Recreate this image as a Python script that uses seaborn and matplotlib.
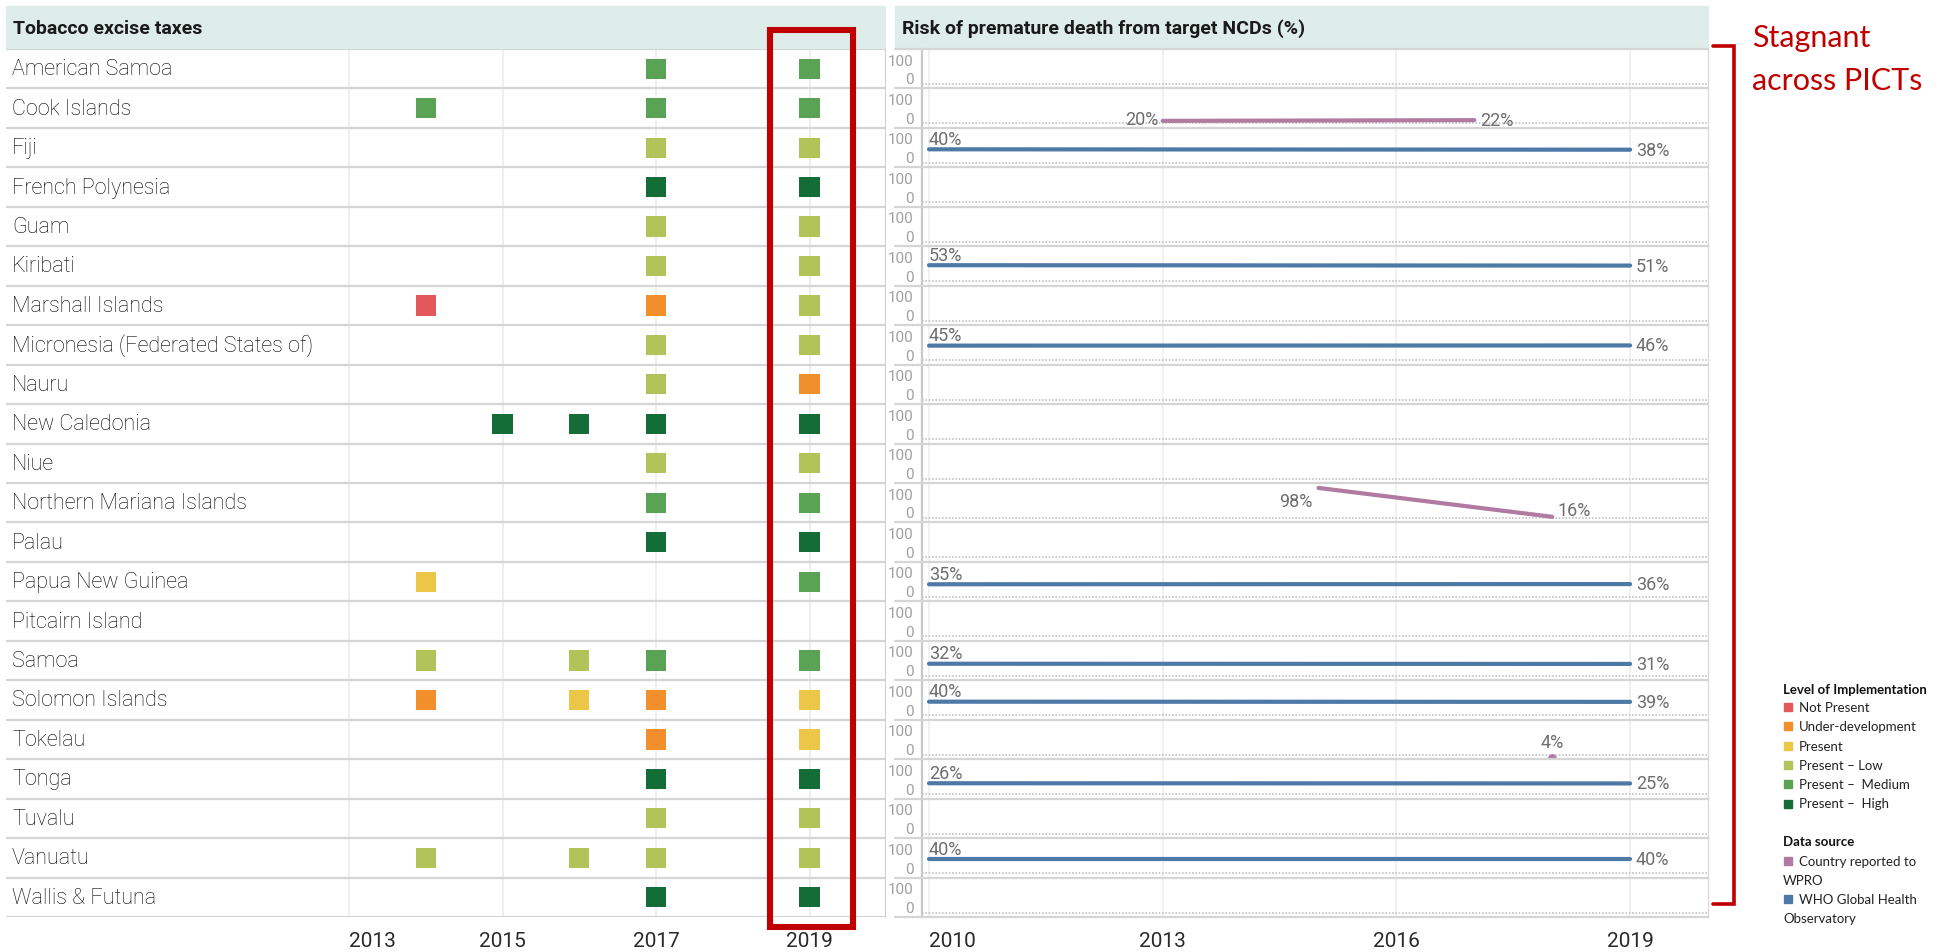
import pandas as pd
import seaborn as sns
import matplotlib.pyplot as plt
from matplotlib.lines import Line2D
from matplotlib.patches import Rectangle

# rows of both tables (top to bottom)
countries = ["American Samoa", "Cook Islands", "Fiji", "French Polynesia", "Guam", "Kiribati",
             "Marshall Islands", "Micronesia (Federated States of)", "Nauru", "New Caledonia",
             "Niue", "Northern Mariana Islands", "Palau", "Papua New Guinea", "Pitcairn Island",
             "Samoa", "Solomon Islands", "Tokelau", "Tonga", "Tuvalu", "Vanuatu", "Wallis & Futuna"]

levels = ["Not Present", "Under-development", "Present", "Present – Low",
          "Present –  Medium", "Present –  High"]
level_colors = ["#e2585b", "#f28f2d", "#ecc747", "#b2c35a", "#5ba354", "#146d37"]
level_codes = ["NP", "UD", "P", "L", "M", "H"]

# tobacco excise taxes: one square per country / year
tax_country = (["American Samoa"] * 2 + ["Cook Islands"] * 3 + ["Fiji"] * 2 + ["French Polynesia"] * 2
               + ["Guam"] * 2 + ["Kiribati"] * 2 + ["Marshall Islands"] * 3
               + ["Micronesia (Federated States of)"] * 2 + ["Nauru"] * 2 + ["New Caledonia"] * 4
               + ["Niue"] * 2 + ["Northern Mariana Islands"] * 2 + ["Palau"] * 2
               + ["Papua New Guinea"] * 2 + ["Samoa"] * 4 + ["Solomon Islands"] * 4 + ["Tokelau"] * 2
               + ["Tonga"] * 2 + ["Tuvalu"] * 2 + ["Vanuatu"] * 4 + ["Wallis & Futuna"] * 2)
tax_year = [2017, 2019, 2014, 2017, 2019, 2017, 2019, 2017, 2019,
            2017, 2019, 2017, 2019, 2014, 2017, 2019,
            2017, 2019, 2017, 2019, 2015, 2016, 2017, 2019,
            2017, 2019, 2017, 2019, 2017, 2019,
            2014, 2019, 2014, 2016, 2017, 2019, 2014, 2016, 2017, 2019, 2017, 2019,
            2017, 2019, 2017, 2019, 2014, 2016, 2017, 2019, 2017, 2019]
tax_level = ["M", "M", "M", "M", "M", "L", "L", "H", "H",
             "L", "L", "L", "L", "NP", "UD", "L",
             "L", "L", "L", "UD", "H", "H", "H", "H",
             "L", "L", "M", "M", "H", "H",
             "P", "M", "L", "L", "M", "M", "UD", "P", "UD", "P", "UD", "P",
             "H", "H", "L", "L", "L", "L", "L", "L", "H", "H"]

# risk of premature death from target NCDs (%)
sources = ["Country reported to WPRO", "WHO Global Health Observatory"]
source_colors = ["#b07aa1", "#4e79a7"]
ncd_country = ["Cook Islands", "Cook Islands", "Fiji", "Fiji", "Kiribati", "Kiribati",
               "Micronesia (Federated States of)", "Micronesia (Federated States of)",
               "Northern Mariana Islands", "Northern Mariana Islands",
               "Papua New Guinea", "Papua New Guinea", "Samoa", "Samoa",
               "Solomon Islands", "Solomon Islands", "Tokelau", "Tonga", "Tonga",
               "Vanuatu", "Vanuatu"]
ncd_year = [2013, 2017, 2010, 2019, 2010, 2019, 2010, 2019, 2015, 2018,
            2010, 2019, 2010, 2019, 2010, 2019, 2018, 2010, 2019, 2010, 2019]
ncd_value = [20, 22, 40, 38, 53, 51, 45, 46, 98, 16,
             35, 36, 32, 31, 40, 39, 4, 26, 25, 40, 40]
ncd_source = ["W", "W", "G", "G", "G", "G", "G", "G", "W", "W",
              "G", "G", "G", "G", "G", "G", "W", "G", "G", "G", "G"]

tax = pd.DataFrame({"country": tax_country, "year": tax_year,
                    "level": [levels[level_codes.index(c)] for c in tax_level]})
tax["row"] = tax["country"].map(countries.index)
ncd = pd.DataFrame({"country": ncd_country, "year": ncd_year, "value": ncd_value,
                    "source": [sources[0] if s == "W" else sources[1] for s in ncd_source]})

sns.set_style("white")
plt.rcParams["font.family"] = ["Roboto", "DejaVu Sans"]

W, H = 1946, 953
fig = plt.figure(figsize=(W / 100, H / 100), dpi=100)
def fx(px): return px / W
def fy(py): return 1 - py / H

row_top, row_bot = 50, 918
n = len(countries)
row_h = (row_bot - row_top) / n
header_col = "#dfedea"
sep_col = "#d5d5d5"
red = "#c00000"

# header bands
for x0, x1, title in [(6, 885, "Tobacco excise taxes"),
                      (895, 1708, "Risk of premature death from target NCDs (%)")]:
    fig.add_artist(Rectangle((fx(x0), fy(49)), fx(x1) - fx(x0), fy(7) - fy(49),
                             transform=fig.transFigure, color=header_col, zorder=0))
    fig.text(fx(x0 + 7), fy(29), title, fontsize=14, fontweight="bold", va="center", color="#1a1a1a")

# ---- left table: excise taxes
px_year = 76.75
x_left = 2013 - (349 - 6) / px_year
x_right = 2013 + (885 - 349) / px_year
ax_l = fig.add_axes([fx(6), fy(row_bot), fx(885) - fx(6), fy(row_top) - fy(row_bot)])
sns.scatterplot(data=tax, x="year", y="row", hue="level", hue_order=levels,
                palette=dict(zip(levels, level_colors)), marker="s", s=210,
                linewidth=0, legend=False, ax=ax_l, zorder=3)
ax_l.set_xlim(x_left, x_right)
ax_l.set_ylim(n - 0.5, -0.5)
for b in range(n + 1):
    ax_l.axhline(b - 0.5, color=sep_col, lw=1.6, zorder=1)
for i, c in enumerate(countries):
    ax_l.text(x_left + 6 / px_year, i, c, va="center", ha="left", fontsize=15.5,
              fontweight="light", color="#000000")
ax_l.set_xticks([2013, 2015, 2017, 2019])
ax_l.set_xticklabels(["2013", "2015", "2017", "2019"], fontsize=15, color="#2a2a2a")
ax_l.get_xticklabels()[0].set_ha("left")
ax_l.set_yticks([])
ax_l.grid(axis="x", color="#ececec", lw=1.2)
ax_l.tick_params(axis="x", length=0, pad=10)
ax_l.set_xlabel("")
ax_l.set_ylabel("")
for s in ["top", "bottom", "left"]:
    ax_l.spines[s].set_visible(False)
ax_l.spines["right"].set_color("#d0d0d0")

# red frame around 2019
fig.add_artist(Rectangle((fx(770), fy(928)), fx(853) - fx(770), fy(31) - fy(928), fill=False,
                         ec=red, lw=4.4, transform=fig.transFigure, zorder=10))

# ---- right table: small multiples
blue_top = 100 + 10 / 19 * 100
blue_bot = -(row_h - 29) / 19 * 100
dot_frac = (row_h - 35) / row_h
for i, c in enumerate(countries):
    top = row_top + i * row_h
    ax = fig.add_axes([fx(922), fy(top + row_h), fx(1708) - fx(922), row_h / H])
    ax2 = ax.twinx()
    sub = ncd[ncd["country"] == c]
    for a, src, col in [(ax, sources[1], source_colors[1]), (ax2, sources[0], source_colors[0])]:
        s = sub[sub["source"] == src]
        if len(s) == 0:
            continue
        if len(s) > 1:
            sns.lineplot(data=s, x="year", y="value", color=col, lw=3.0, ax=a, legend=False)
        else:
            sns.scatterplot(data=s, x="year", y="value", color=col, s=40, linewidth=0,
                            ax=a, legend=False, clip_on=False)
        xs, vs = s["year"].tolist(), s["value"].tolist()
        lab = dict(fontsize=13, color="#6e6e6e", textcoords="offset points",
                   annotation_clip=False)
        if len(s) == 1:
            a.annotate(f"{vs[0]}%", (xs[0], vs[0]), xytext=(0, 5), ha="center", va="bottom", **lab)
        else:
            if xs[0] == 2010:
                a.annotate(f"{vs[0]}%", (xs[0], vs[0]), xytext=(0, 1), ha="left", va="bottom", **lab)
            elif vs[0] > 80:
                a.annotate(f"{vs[0]}%", (xs[0], vs[0]), xytext=(-4, -3), ha="right", va="top", **lab)
            else:
                a.annotate(f"{vs[0]}%", (xs[0], vs[0]), xytext=(-3, 1), ha="right", va="center", **lab)
            dy = 5 if vs[-1] < vs[0] - 20 else 0
            a.annotate(f"{vs[-1]}%", (xs[-1], vs[-1]), xytext=(4, dy), ha="left", va="center", **lab)
    ax.set_xlim(2009.91, 2020.0)
    ax.set_ylim(blue_bot, blue_top)
    ax2.set_ylim(0, 112)
    ax.set_yticks([0, 100])
    ax.set_yticklabels(["0", "100"], fontsize=11, color="#a0a0a0")
    ax.tick_params(axis="y", length=0, pad=6)
    ax2.set_yticks([])
    ax.set_xticks([2010, 2013, 2016, 2019])
    ax.grid(axis="x", color="#efefef", lw=1.2)
    ax.set_xlabel("")
    ax.set_ylabel("")
    ax2.set_ylabel("")
    ax.plot([0, 1], [dot_frac, dot_frac], transform=ax.transAxes, ls=(0, (1, 1)),
            color="#c4c4c4", lw=1.2)
    for a in (ax, ax2):
        a.spines["top"].set_visible(False)
        a.spines["bottom"].set_visible(False)
        a.spines["left"].set_color("#c8c8c8")
        a.spines["left"].set_linewidth(1.5)
        a.spines["right"].set_color("#d8d8d8")
    if i == n - 1:
        ax.set_xticklabels(["2010", "2013", "2016", "2019"], fontsize=15, color="#2a2a2a")
        ax.get_xticklabels()[0].set_ha("left")
        ax.tick_params(axis="x", length=0, pad=10)
    else:
        ax.set_xticklabels([])
        ax.tick_params(axis="x", length=0)

for b in range(n + 1):
    yb = fy(row_top + b * row_h)
    fig.add_artist(Line2D([fx(895), fx(1708)], [yb, yb], color=sep_col, lw=1.6))

# bracket + annotation
fig.add_artist(Line2D([fx(1713), fx(1734), fx(1734), fx(1713)], [fy(47), fy(47), fy(905), fy(905)],
                      color=red, lw=2.6, solid_joinstyle="miter"))
fig.text(fx(1752), fy(47), "Stagnant", fontsize=22, color=red, family="Lato", va="baseline")
fig.text(fx(1752), fy(90), "across PICTs", fontsize=22, color=red, family="Lato", va="baseline")

# legends
lx = 1783
fig.text(fx(lx), fy(690), "Level of Implementation", fontsize=9.5, fontweight="bold",
         family="Lato", va="center", color="#111111")
for k, (lv, col) in enumerate(zip(levels, level_colors)):
    yy = 708 + k * 19.3
    fig.add_artist(Rectangle((fx(lx + 1), fy(yy + 4)), 8 / W, 8 / H, color=col,
                             transform=fig.transFigure))
    fig.text(fx(lx + 16), fy(yy), lv, fontsize=9.5, family="Lato", va="center", color="#222222")
fig.text(fx(lx), fy(842), "Data source", fontsize=9.5, fontweight="bold",
         family="Lato", va="center", color="#111111")
src_lines = [("Country reported to", "WPRO"), ("WHO Global Health", "Observatory")]
for k, ((l1, l2), col) in enumerate(zip(src_lines, source_colors)):
    yy = 862 + k * 38
    fig.add_artist(Rectangle((fx(lx + 1), fy(yy + 4)), 8 / W, 8 / H, color=col,
                             transform=fig.transFigure))
    fig.text(fx(lx + 16), fy(yy), l1, fontsize=9.5, family="Lato", va="center", color="#222222")
    fig.text(fx(lx), fy(yy + 19), l2, fontsize=9.5, family="Lato", va="center", color="#222222")

fig.savefig("out.png", dpi=100, facecolor="white")
